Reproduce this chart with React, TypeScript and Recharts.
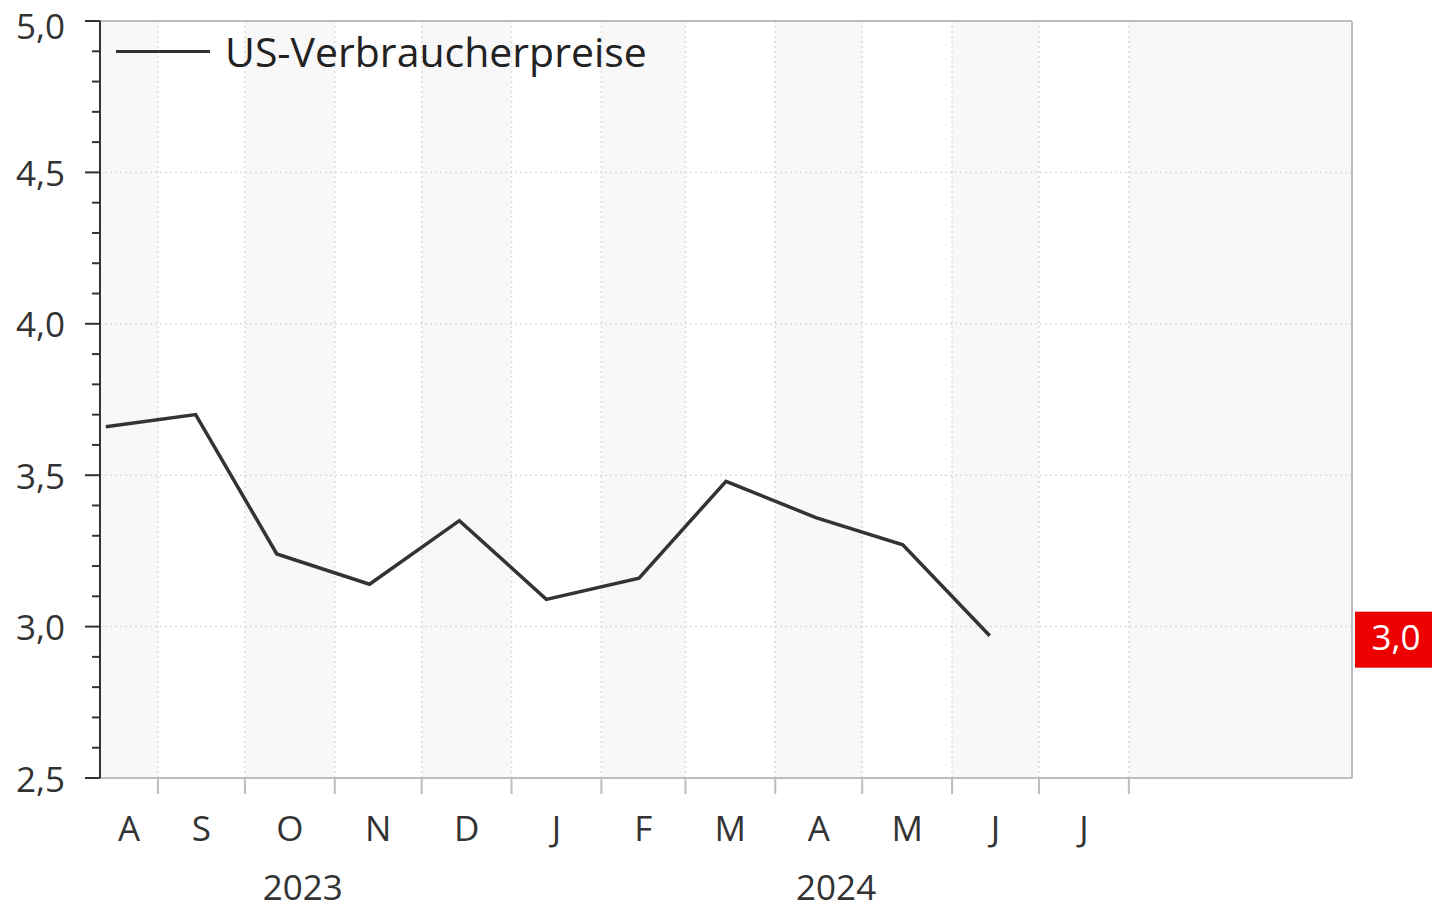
import React from "react";
import {
  LineChart,
  Line,
  XAxis,
  YAxis,
  ReferenceLine,
  ReferenceArea,
  Legend,
} from "recharts";

// US consumer prices, y/y in %, one point per month (mid-month)
const pointDates = [
  "2023-08-14",
  "2023-09-14",
  "2023-10-12",
  "2023-11-13",
  "2023-12-14",
  "2024-01-13",
  "2024-02-14",
  "2024-03-15",
  "2024-04-15",
  "2024-05-15",
  "2024-06-14",
];
const cpiValues = [3.66, 3.7, 3.24, 3.14, 3.35, 3.09, 3.16, 3.48, 3.36, 3.27, 2.97];

const axisStart = "2023-08-12";
const axisEnd = "2024-10-17";
const monthStarts = [
  "2023-09-01",
  "2023-10-01",
  "2023-11-01",
  "2023-12-01",
  "2024-01-01",
  "2024-02-01",
  "2024-03-01",
  "2024-04-01",
  "2024-05-01",
  "2024-06-01",
  "2024-07-01",
  "2024-08-01",
];
const monthLabels = ["A", "S", "O", "N", "D", "J", "F", "M", "A", "M", "J", "J"];
const yearLabels = ["2023", "2024"];
const yearLabelDates = ["2023-10-21", "2024-04-22"];

const yGridValues = [3, 3.5, 4, 4.5];

const FONT = "'Open Sans', 'Noto Sans', sans-serif";
const TEXT = "#333";
const AXIS_GREY = "#bdbdbd";

const toDay = (s: string) => Date.parse(s) / 86400000;
const fmt = (v: number) => v.toFixed(1).replace(".", ",");

const data = pointDates.map((d, i) => ({ day: toDay(d), value: cpiValues[i] }));

const edges = [toDay(axisStart), ...monthStarts.map(toDay), toDay(axisEnd)];
const bands = edges.slice(0, -1).map((d, i) => ({ x1: d, x2: edges[i + 1], shaded: i % 2 === 0 }));
const monthMids = monthLabels.map((_, i) => (edges[i] + edges[i + 1]) / 2);
const boundaryDays = monthStarts.map(toDay);
const yearDays = yearLabelDates.map(toDay);

const monthByDay = new Map(monthMids.map((d, i) => [d, monthLabels[i]]));
const yearByDay = new Map(yearDays.map((d, i) => [d, yearLabels[i]]));
const boundarySet = new Set(boundaryDays);
const xTicks = [...boundaryDays, ...monthMids, ...yearDays].sort((a, b) => a - b);

// 0.1 steps between 2.5 and 5.0
const yAllTicks: number[] = [];
for (let i = 25; i <= 50; i++) yAllTicks.push(i / 10);
const isMajor = (v: number) => Math.round(v * 10) % 5 === 0;

const XTick = (props: any) => {
  const { x, y, payload } = props;
  const v = payload.value;
  if (boundarySet.has(v)) {
    return <line x1={x} x2={x} y1={y} y2={y + 16} stroke={AXIS_GREY} strokeWidth={2} />;
  }
  if (monthByDay.has(v)) {
    return (
      <text x={x} y={y + 49} textAnchor="middle" dominantBaseline="central" fontSize={35} fill={TEXT} fontFamily={FONT}>
        {monthByDay.get(v)}
      </text>
    );
  }
  if (yearByDay.has(v)) {
    return (
      <text x={x} y={y + 108} textAnchor="middle" dominantBaseline="central" fontSize={35} fill={TEXT} fontFamily={FONT}>
        {yearByDay.get(v)}
      </text>
    );
  }
  return null;
};

// keep the top label inside the picture
const labelY = (y: number) => Math.max(y, 25);

const LeftTick = (props: any) => {
  const { x, y, payload } = props;
  const major = isMajor(payload.value);
  return (
    <g>
      <line x1={x - (major ? 15 : 8)} x2={x} y1={y} y2={y} stroke={TEXT} strokeWidth={2} />
      {major && (
        <text x={x - 35} y={labelY(y)} textAnchor="end" dominantBaseline="central" fontSize={35} fill={TEXT} fontFamily={FONT}>
          {fmt(payload.value)}
        </text>
      )}
    </g>
  );
};

const RightTick = (props: any) => {
  const { x, y, payload } = props;
  const major = isMajor(payload.value);
  return (
    <g>
      <line x1={x} x2={x + (major ? 16 : 8)} y1={y} y2={y} stroke={AXIS_GREY} strokeWidth={2} />
      {major && (
        <text x={x + 30} y={labelY(y)} textAnchor="start" dominantBaseline="central" fontSize={35} fill={TEXT} fontFamily={FONT}>
          {fmt(payload.value)}
        </text>
      )}
    </g>
  );
};

const LegendContent = () => (
  <div style={{ display: "flex", alignItems: "center", fontFamily: FONT }}>
    <div style={{ width: 94, height: 3, background: TEXT, marginRight: 15 }} />
    <span style={{ fontSize: 41, color: "#222", lineHeight: "46px" }}>US-Verbraucherpreise</span>
  </div>
);

const lastValue = cpiValues[cpiValues.length - 1];

const LastValueBadge = (props: any) => {
  const { viewBox } = props;
  const right = viewBox.x + viewBox.width;
  return (
    <g>
      <rect x={right + 3} y={viewBox.y - 24} width={77} height={56} fill="#ee0000" />
      <text
        x={right + 44}
        y={viewBox.y + 1}
        textAnchor="middle"
        dominantBaseline="central"
        fontSize={35}
        fill="#fff"
        fontFamily={FONT}
      >
        {fmt(lastValue)}
      </text>
    </g>
  );
};

export default function App() {
  return (
    <div style={{ width: 1440, height: 908, background: "#fff", fontFamily: FONT }}>
      <style>{`body{margin:0}`}</style>
      <LineChart width={1440} height={908} data={data} margin={{ top: 21, right: 0, bottom: 0, left: 0 }}>
        <XAxis
          dataKey="day"
          type="number"
          domain={[edges[0], edges[edges.length - 1]]}
          ticks={xTicks}
          interval={0}
          tickLine={false}
          tickSize={0}
          tickMargin={0}
          tick={<XTick />}
          axisLine={{ stroke: AXIS_GREY, strokeWidth: 2 }}
          height={130}
        />
        <YAxis
          yAxisId="left"
          type="number"
          domain={[2.5, 5]}
          ticks={yAllTicks}
          interval={0}
          tickLine={false}
          tickSize={0}
          tickMargin={0}
          tick={<LeftTick />}
          axisLine={{ stroke: TEXT, strokeWidth: 2 }}
          width={100}
        />
        <YAxis
          yAxisId="right"
          orientation="right"
          type="number"
          domain={[2.5, 5]}
          ticks={yAllTicks}
          interval={0}
          tickLine={false}
          tickSize={0}
          tickMargin={0}
          tick={<RightTick />}
          axisLine={{ stroke: AXIS_GREY, strokeWidth: 2 }}
          width={88}
        />
        {bands
          .filter((b) => b.shaded)
          .map((b, i) => (
            <ReferenceArea
              key={`band-${i}`}
              yAxisId="left"
              x1={b.x1}
              x2={b.x2}
              y1={2.5}
              y2={5}
              fill="#f8f8f8"
              fillOpacity={1}
              stroke="none"
            />
          ))}
        {boundaryDays.map((d) => (
          <ReferenceLine key={`v-${d}`} yAxisId="left" x={d} stroke="#dcdcdc" strokeWidth={1.5} strokeDasharray="2 3" />
        ))}
        {yGridValues.map((v) => (
          <ReferenceLine key={`h-${v}`} yAxisId="left" y={v} stroke="#dcdcdc" strokeWidth={1.5} strokeDasharray="2 3" />
        ))}
        <ReferenceLine yAxisId="left" y={5} stroke={AXIS_GREY} strokeWidth={2} />
        <ReferenceLine yAxisId="left" y={lastValue} stroke="none" label={<LastValueBadge />} />
        <Legend
          layout="horizontal"
          verticalAlign="middle"
          align="center"
          content={<LegendContent />}
          wrapperStyle={{ position: "absolute", top: 28, left: 116, width: "auto", height: "auto" }}
        />
        <Line
          yAxisId="left"
          type="linear"
          dataKey="value"
          name="US-Verbraucherpreise"
          stroke={TEXT}
          strokeWidth={3.5}
          dot={false}
          isAnimationActive={false}
        />
      </LineChart>
    </div>
  );
}
